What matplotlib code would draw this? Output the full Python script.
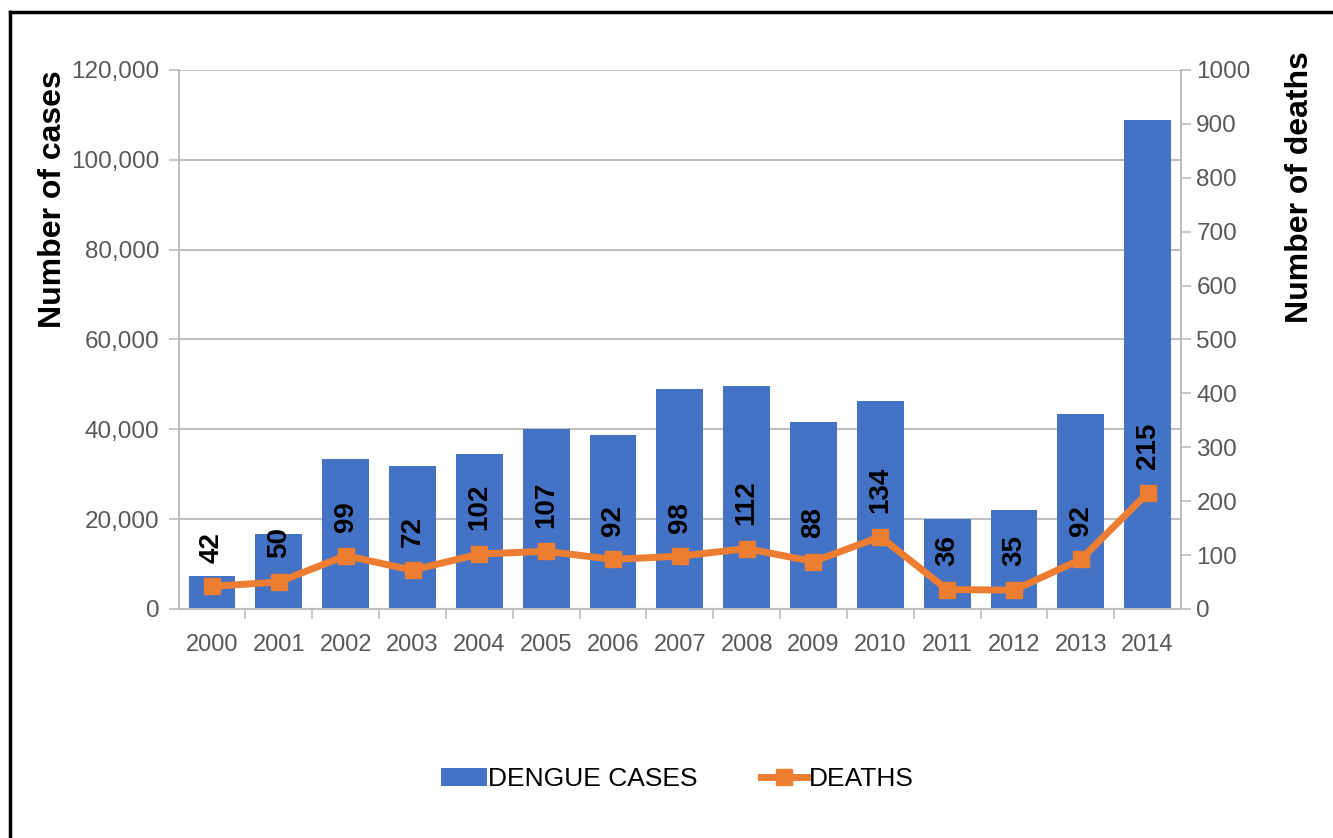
import matplotlib.pyplot as plt
from matplotlib.lines import Line2D
from matplotlib.patches import Patch
from matplotlib.ticker import FuncFormatter

years = ['2000', '2001', '2002', '2003', '2004', '2005', '2006', '2007',
         '2008', '2009', '2010', '2011', '2012', '2013', '2014']
cases = [7400, 16700, 33300, 31800, 34400, 40000, 38700, 49000,
         49700, 41600, 46300, 20000, 22000, 43300, 108800]
deaths = [42, 50, 99, 72, 102, 107, 92, 98, 112, 88, 134, 36, 35, 92, 215]

plt.rcParams['font.family'] = ['Liberation Sans', 'DejaVu Sans']

blue = '#4472C4'
orange = '#ED7D31'
grey = '#BFBFBF'
tickc = '#595959'

fig = plt.figure(figsize=(13.33, 8.38), dpi=100)
ax = fig.add_axes([0.134, 0.2733, 0.752, 0.6432])
x = list(range(len(years)))

ax.bar(x, cases, width=0.7, color=blue, zorder=2)
ax.set_xlim(-0.5, len(years) - 0.5)
ax.set_ylim(0, 120000)
ax.set_yticks(range(0, 120001, 20000))
ax.yaxis.set_major_formatter(FuncFormatter(lambda v, p: f'{int(v):,}'))
ax.grid(axis='y', color=grey, linewidth=1.5, zorder=0)
ax.set_xticks(x)
ax.set_xticklabels(years)
ax.set_xticks([i + 0.5 for i in x[:-1]], minor=True)
ax.tick_params(axis='x', which='major', length=0, pad=18, labelsize=17, colors=tickc)
ax.tick_params(axis='x', which='minor', length=7, width=1.2, color=grey)
ax.tick_params(axis='y', length=7, width=1.2, color=grey, labelsize=17.5,
               labelcolor=tickc, pad=7)
for s in ['top', 'right']:
    ax.spines[s].set_visible(False)
for s in ['left', 'bottom']:
    ax.spines[s].set_color(grey)
    ax.spines[s].set_linewidth(1.5)
ax.set_ylabel('Number of cases', fontsize=23, fontweight='bold', loc='top')
ax.yaxis.set_label_coords(-0.110, 1.0)

ax2 = ax.twinx()
ax2.plot(x, deaths, color=orange, linewidth=5, marker='s', markersize=11,
         zorder=3)
ax2.set_ylim(0, 1000)
ax2.set_yticks(range(0, 1001, 100))
ax2.tick_params(axis='y', length=7, width=1.2, color=grey, labelsize=17.5,
                labelcolor=tickc, pad=4)
for s in ['top', 'left', 'bottom']:
    ax2.spines[s].set_visible(False)
ax2.spines['right'].set_color(grey)
ax2.spines['right'].set_linewidth(1.5)
ax2.set_ylabel('Number of deaths', fontsize=23, fontweight='bold', loc='top')
ax2.yaxis.set_label_coords(1.104, 1.035)

for xi, d in zip(x, deaths):
    ax2.annotate(str(d), (xi, d), xytext=(0, 17), textcoords='offset points',
                 rotation=90, ha='center', va='bottom', fontsize=20,
                 fontweight='bold', color='black', zorder=4)

handles = [Patch(facecolor=blue, label='DENGUE CASES'),
           Line2D([0], [0], color=orange, linewidth=5, marker='s',
                  markersize=11, label='DEATHS')]
fig.legend(handles=handles, loc='center', bbox_to_anchor=(0.508, 0.07),
           ncol=2, frameon=False, fontsize=19, handlelength=1.75,
           handletextpad=0.05, columnspacing=2.4)

# frame lines of the original screenshot
fig.add_artist(Line2D([0.0075, 0.0075], [0, 0.986], color='black', linewidth=2.5,
                      transform=fig.transFigure))
fig.add_artist(Line2D([0.0075, 1.0], [0.986, 0.986], color='black', linewidth=2.5,
                      transform=fig.transFigure))

fig.savefig('out.png', dpi=100)
